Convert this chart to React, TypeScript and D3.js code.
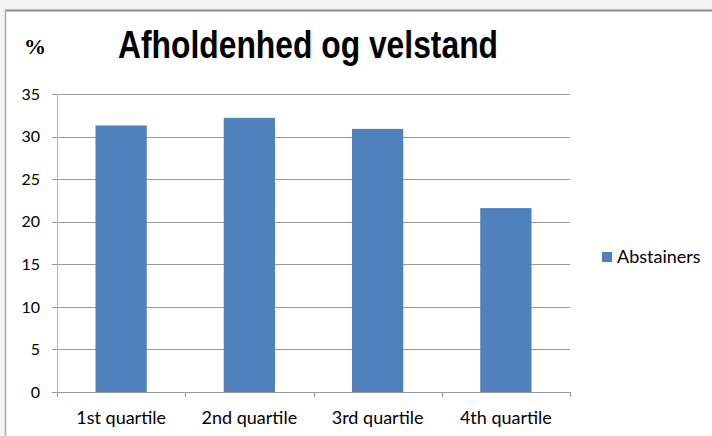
import React, { useEffect, useRef } from "react";
import * as d3 from "d3";

// data
const categories = ["1st quartile", "2nd quartile", "3rd quartile", "4th quartile"];
const abstainers = [31.3, 32.2, 30.9, 21.6];
const yTicks = [0, 5, 10, 15, 20, 25, 30, 35];
const seriesName = "Abstainers";
const chartTitle = "Afholdenhed og velstand";
const yUnit = "%";

const W = 712;
const H = 436;
const BAR = "#4F81BD";
const LABEL_FONT = "Lato, 'Open Sans', sans-serif";

export default function App() {
  const ref = useRef<SVGSVGElement | null>(null);

  useEffect(() => {
    const svg = d3.select(ref.current);
    svg.selectAll("*").remove();

    const plot = { left: 57, right: 570, top: 94, bottom: 392 };

    // window frame
    svg.append("rect").attr("width", W).attr("height", H).attr("fill", "#f4f4f4");
    svg.append("rect").attr("x", 5).attr("y", 10).attr("width", W - 5).attr("height", H - 10).attr("fill", "#fff");
    svg.append("line").attr("x1", 5).attr("x2", W).attr("y1", 10.5).attr("y2", 10.5)
      .attr("stroke", "#8c8c8c").attr("stroke-width", 2);
    svg.append("line").attr("x1", 5.5).attr("x2", 5.5).attr("y1", 10).attr("y2", H)
      .attr("stroke", "#a8a8a8").attr("stroke-width", 1.5);

    const x = d3.scaleBand<string>().domain(categories).range([plot.left, plot.right]);
    const y = d3.scaleLinear().domain([0, 35]).range([plot.bottom, plot.top]);

    // gridlines
    svg.append("g")
      .selectAll("line")
      .data(yTicks)
      .enter()
      .append("line")
      .attr("x1", plot.left - 5)
      .attr("x2", plot.right)
      .attr("y1", (d) => Math.round(y(d)) + 0.5)
      .attr("y2", (d) => Math.round(y(d)) + 0.5)
      .attr("stroke", "#999")
      .attr("stroke-width", 1);

    // y axis line
    svg.append("line")
      .attr("x1", plot.left + 0.5).attr("x2", plot.left + 0.5)
      .attr("y1", plot.top).attr("y2", plot.bottom + 5)
      .attr("stroke", "#b5b5b5");

    // x tick marks at category boundaries
    const bounds = categories.map((c) => x(c) as number).concat([plot.right]);
    svg.append("g")
      .selectAll("line")
      .data(bounds)
      .enter()
      .append("line")
      .attr("x1", (d) => Math.round(d) + 0.5)
      .attr("x2", (d) => Math.round(d) + 0.5)
      .attr("y1", plot.bottom)
      .attr("y2", plot.bottom + 5)
      .attr("stroke", "#999");

    // bars
    const bw = x.bandwidth() * 0.4;
    svg.append("g")
      .selectAll("rect")
      .data(abstainers)
      .enter()
      .append("rect")
      .attr("x", (d, i) => (x(categories[i]) as number) + x.bandwidth() / 2 - bw / 2)
      .attr("y", (d) => y(d))
      .attr("width", bw)
      .attr("height", (d) => y(0) - y(d))
      .attr("fill", BAR);

    // y labels
    svg.append("g")
      .selectAll("text")
      .data(yTicks)
      .enter()
      .append("text")
      .attr("x", 40)
      .attr("y", (d) => y(d))
      .attr("dy", "0.36em")
      .attr("text-anchor", "end")
      .attr("font-family", LABEL_FONT)
      .attr("font-size", 16)
      .attr("fill", "#000")
      .text((d) => d);

    // x labels
    svg.append("g")
      .selectAll("text")
      .data(categories)
      .enter()
      .append("text")
      .attr("x", (d) => (x(d) as number) + x.bandwidth() / 2)
      .attr("y", 424)
      .attr("text-anchor", "middle")
      .attr("font-family", LABEL_FONT)
      .attr("font-size", 18)
      .attr("fill", "#000")
      .text((d) => d);

    // title (narrow bold face, squeezed to the reference width) and unit
    svg.append("text")
      .attr("x", 118)
      .attr("y", 58)
      .attr("font-family", "'Liberation Sans', Arial, sans-serif")
      .attr("font-weight", "bold")
      .attr("font-size", 38)
      .attr("textLength", 380)
      .attr("lengthAdjust", "spacingAndGlyphs")
      .text(chartTitle);
    svg.append("text")
      .attr("x", 24)
      .attr("y", 54)
      .attr("font-family", "'Liberation Serif', serif")
      .attr("font-weight", "bold")
      .attr("font-size", 22)
      .text(yUnit);

    // legend
    svg.append("rect").attr("x", 602).attr("y", 252).attr("width", 10).attr("height", 10).attr("fill", BAR);
    svg.append("text")
      .attr("x", 617)
      .attr("y", 257)
      .attr("dy", "0.36em")
      .attr("font-family", LABEL_FONT)
      .attr("font-size", 18)
      .text(seriesName);
  }, []);

  return (
    <svg
      ref={ref}
      width={W}
      height={H}
      style={{ position: "absolute", left: 0, top: 0, display: "block" }}
    />
  );
}
